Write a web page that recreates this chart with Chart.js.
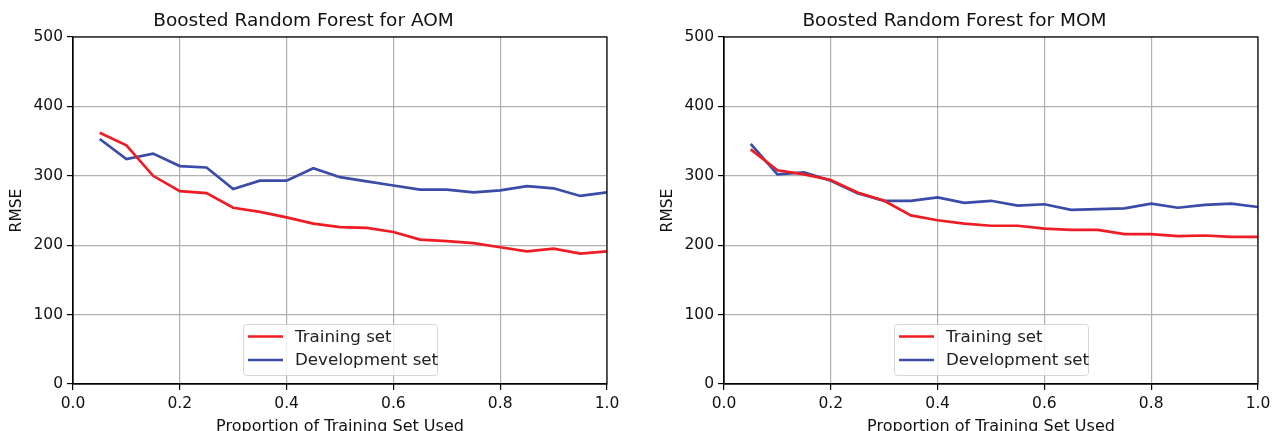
<!DOCTYPE html>
<html>
<head>
<meta charset="utf-8">
<script src="https://cdn.jsdelivr.net/npm/chart.js@4/dist/chart.umd.min.js"></script>
<style>
  html, body { margin: 0; padding: 0; background: #fff; overflow: hidden; }
  body { width: 1273px; height: 431px; position: relative; }
  canvas { position: absolute; top: 0; }
  #aom { left: 0; }
  #mom { left: 651px; }
</style>
</head>
<body>
<canvas id="aom" width="636" height="440"></canvas>
<canvas id="mom" width="640" height="440"></canvas>
<script>
// Proporción del conjunto de entrenamiento usada
const proporciones = [0.05, 0.1, 0.15, 0.2, 0.25, 0.3, 0.35, 0.4, 0.45, 0.5,
                      0.55, 0.6, 0.65, 0.7, 0.75, 0.8, 0.85, 0.9, 0.95, 1.0];

// RMSE para AOM
const aomTraining = [362, 344, 300, 278, 275, 254, 248, 240, 231, 226,
                     225, 219, 208, 206, 203, 197, 191, 195, 188, 191];
const aomDevelopment = [353, 324, 332, 314, 312, 281, 293, 293, 311, 298,
                        292, 286, 280, 280, 276, 279, 285, 282, 271, 276];

// RMSE para MOM
const momTraining = [338, 308, 302, 294, 276, 264, 243, 236, 231, 228,
                     228, 224, 222, 222, 216, 216, 213, 214, 212, 212];
const momDevelopment = [346, 302, 305, 293, 275, 264, 264, 269, 261, 264,
                        257, 259, 251, 252, 253, 260, 254, 258, 260, 255];

const yTicks = [0, 100, 200, 300, 400, 500];
const xTicks = [0.0, 0.2, 0.4, 0.6, 0.8, 1.0];

const FONT = "'DejaVu Sans', sans-serif";
const RED = '#ee1d25';
const BLUE = '#3a4ba8';

// Marco completo y leyenda dentro del área
const marcoYLeyenda = {
    id: 'marcoYLeyenda',
    afterDraw(chart) {
        const { ctx, chartArea: a } = chart;
        ctx.save();
        ctx.strokeStyle = '#000';
        ctx.lineWidth = 1.2;
        ctx.strokeRect(a.left, a.top, a.right - a.left, a.bottom - a.top);

        // Leyenda
        const w = 194, h = 51;
        const x0 = Math.round((a.left + a.right) / 2 - w / 2);
        const y0 = a.bottom - 9 - h;
        ctx.fillStyle = 'rgba(255,255,255,0.8)';
        ctx.strokeStyle = '#d6d6d6';
        ctx.lineWidth = 1;
        ctx.beginPath();
        ctx.roundRect(x0 + 0.5, y0 + 0.5, w, h, 3);
        ctx.fill();
        ctx.stroke();

        ctx.font = '16.7px ' + FONT;
        ctx.textBaseline = 'middle';
        chart.data.datasets.forEach((ds, i) => {
            const yy = y0 + 12.5 + i * 23.5;
            ctx.strokeStyle = ds.borderColor;
            ctx.lineWidth = 2.7;
            ctx.beginPath();
            ctx.moveTo(x0 + 5, yy);
            ctx.lineTo(x0 + 40, yy);
            ctx.stroke();
            ctx.fillStyle = '#222';
            ctx.fillText(ds.label, x0 + 52, yy + 1);
        });
        ctx.restore();
    }
};

function crearGrafico(id, titulo, training, development, padDerecha) {
    const toPts = arr => arr.map((v, i) => ({ x: proporciones[i], y: v }));
    return new Chart(document.getElementById(id), {
        type: 'line',
        data: {
            datasets: [{
                label: 'Training set',
                data: toPts(training),
                borderColor: RED,
                borderWidth: 2.7,
                pointRadius: 0,
                tension: 0,
                fill: false
            }, {
                label: 'Development set',
                data: toPts(development),
                borderColor: BLUE,
                borderWidth: 2.7,
                pointRadius: 0,
                tension: 0,
                fill: false
            }]
        },
        options: {
            responsive: false,
            animation: false,
            layout: { padding: { left: 0, right: padDerecha, top: 0, bottom: 0 } },
            plugins: {
                legend: { display: false },
                tooltip: { enabled: false },
                title: {
                    display: true,
                    text: titulo,
                    color: '#111',
                    font: { family: FONT, size: 18.5, weight: 'normal' },
                    padding: { top: 10, bottom: 4.8 }
                }
            },
            scales: {
                x: {
                    type: 'linear',
                    min: 0,
                    max: 1,
                    afterBuildTicks: s => { s.ticks = xTicks.map(v => ({ value: v })); },
                    afterFit: s => { s.height = 56; },
                    ticks: {
                        color: '#111',
                        font: { family: FONT, size: 15.5 },
                        padding: 5,
                        maxRotation: 0,
                        callback: v => v.toFixed(1)
                    },
                    grid: { color: '#b0b0b0', lineWidth: 1.2, tickColor: '#000', tickLength: 6 },
                    border: { color: '#000', width: 1.2 },
                    title: {
                        display: true,
                        text: 'Proportion of Training Set Used',
                        color: '#111',
                        font: { family: FONT, size: 16 },
                        padding: { top: 0, bottom: 4 }
                    }
                },
                y: {
                    min: 0,
                    max: 500,
                    afterBuildTicks: s => { s.ticks = yTicks.map(v => ({ value: v })); },
                    afterFit: s => { s.width = 73; },
                    ticks: {
                        color: '#111',
                        font: { family: FONT, size: 15.5 },
                        padding: 4
                    },
                    grid: { color: '#b0b0b0', lineWidth: 1.2, tickColor: '#000', tickLength: 6 },
                    border: { color: '#000', width: 1.2 },
                    title: {
                        display: true,
                        text: 'RMSE',
                        color: '#111',
                        font: { family: FONT, size: 15.5 },
                        padding: { top: 8, bottom: 0 }
                    }
                }
            }
        },
        plugins: [marcoYLeyenda]
    });
}

crearGrafico('aom', 'Boosted Random Forest for AOM', aomTraining, aomDevelopment, 29);
crearGrafico('mom', 'Boosted Random Forest for MOM', momTraining, momDevelopment, 33);
</script>
</body>
</html>
